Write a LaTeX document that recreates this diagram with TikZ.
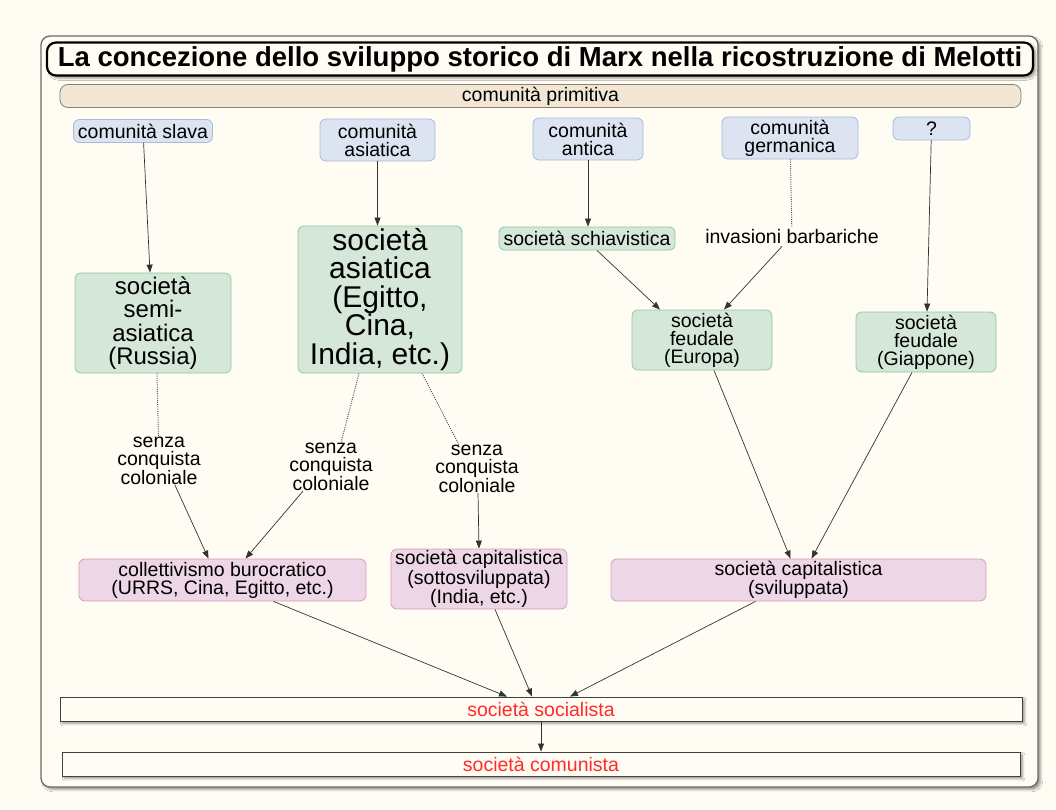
\documentclass[tikz,border=0pt]{standalone}
\usepackage{fontspec}
\setmainfont{Liberation Sans}
\usetikzlibrary{arrows.meta,shadows.blur}

\definecolor{paper}{HTML}{FFFDF3}
\definecolor{frameline}{HTML}{6E6A64}
\definecolor{primfill}{HTML}{F2E7D4}
\definecolor{primline}{HTML}{8E7C76}
\definecolor{commfill}{HTML}{DCE3F1}
\definecolor{commline}{HTML}{A9B9DA}
\definecolor{socfill}{HTML}{D4E7D8}
\definecolor{socline}{HTML}{8FC89C}
\definecolor{capfill}{HTML}{EDD6E5}
\definecolor{capline}{HTML}{D89CBB}
\definecolor{redtext}{HTML}{FF2A2A}

\begin{document}
\begin{tikzpicture}[x=1pt,y=-1pt,
  txt/.style={font=\fontsize{19.5}{18}\selectfont, align=center, inner sep=0pt},
  midtxt/.style={font=\fontsize{24}{23.5}\selectfont, align=center, inner sep=0pt},
  bigtxt/.style={font=\fontsize{30}{28.5}\selectfont, align=center, inner sep=0pt},
  box/.style={rounded corners=6pt, line width=0.8pt},
  commbox/.style={box, draw=commline, fill=commfill},
  socbox/.style={box, draw=socline, fill=socfill},
  capbox/.style={box, draw=capline, fill=capfill},
  endbox/.style={txt, draw=black!75, fill=paper, line width=0.9pt, text=redtext,
    blur shadow={shadow blur steps=5}},
  arr/.style={-{Triangle[length=8pt,width=6pt]}, draw=black!80, line width=0.7pt},
  dots/.style={draw=black!65, line width=1pt, dash pattern=on 1pt off 1.2pt},
]
\useasboundingbox (0,0) rectangle (1056,809);
\fill[paper] (0,0) rectangle (1056,809);

% outer frame
\draw[frameline, line width=1.3pt, fill=paper, rounded corners=9pt,
  blur shadow={shadow blur steps=5}] (41,36) rectangle (1038,787);

% title
\node[draw=black, line width=2.2pt, fill=paper, rounded corners=9pt, inner sep=0pt,
  minimum width=986, minimum height=33, font=\fontsize{27.5}{28}\selectfont\bfseries,
  blur shadow={shadow blur steps=5}] (title) at (540,59)
  {La concezione dello sviluppo storico di Marx nella ricostruzione di Melotti};

% primitive community bar
\node[txt, box, draw=primline, fill=primfill, rounded corners=8pt,
  minimum width=961, minimum height=23] (prim) at (540.5,96) {comunità primitiva};

% communities
\node[txt, commbox, minimum width=139, minimum height=23] (slava) at (143,131) {comunità slava};
\node[txt, commbox, minimum width=115, minimum height=42] (asiac) at (377.5,140) {comunità\\asiatica};
\node[txt, commbox, minimum width=110, minimum height=42] (antica) at (588,139) {comunità\\antica};
\node[txt, commbox, minimum width=136, minimum height=42] (germ) at (790,138) {comunità\\germanica};
\node[txt, commbox, minimum width=77, minimum height=23] (ignota) at (931.5,128.5) {?};

% pre-capitalist societies
\node[midtxt, socbox, minimum width=156, minimum height=100] (russia) at (153,323)
  {società\\semi-\\asiatica\\(Russia)};
\node[bigtxt, socbox, minimum width=164, minimum height=147] (asias) at (380,299.5)
  {società\\asiatica\\(Egitto,\\Cina,\\India, etc.)};
\node[txt, socbox, rounded corners=5pt, minimum width=176, minimum height=23] (schiav) at (587,238.5)
  {società schiavistica};
\node[txt, inner sep=2pt] (invas) at (792,237) {invasioni barbariche};
\node[txt, socbox, minimum width=140, minimum height=60] (europa) at (702,340)
  {società\\feudale\\(Europa)};
\node[txt, socbox, minimum width=140, minimum height=60] (giapp) at (926,342)
  {società\\feudale\\(Giappone)};

% labels
\node[txt] (senza1) at (159,461) {senza\\conquista\\coloniale};
\node[txt] (senza2) at (331,467) {senza\\conquista\\coloniale};
\node[txt] (senza3) at (477,469) {senza\\conquista\\coloniale};

% later societies
\node[txt, capbox, minimum width=287, minimum height=42] (burocr) at (222.5,580)
  {collettivismo burocratico\\(URRS, Cina, Egitto, etc.)};
\node[txt, capbox, minimum width=176, minimum height=60] (sotto) at (479,579)
  {società capitalistica\\(sottosviluppata)\\(India, etc.)};
\node[txt, capbox, minimum width=375, minimum height=42] (svil) at (798.5,580)
  {società capitalistica\\(sviluppata)};

\node[endbox, minimum width=962, minimum height=24] (social) at (541,709) {società socialista};
\node[endbox, minimum width=958, minimum height=24] (comun) at (541,764) {società comunista};

% connectors
\draw[arr] (slava) -- ([xshift=-3pt]russia.north);
\draw[arr] (asiac) -- (asiac |- asias.north);
\draw[arr] (antica) -- (antica |- schiav.north);
\draw[dots] (germ) -- (invas);
\draw[arr] (ignota) -- ([xshift=1pt]giapp.north);
\draw[arr] ([xshift=10pt]schiav.south) -- ([xshift=-42pt]europa.north);
\draw[arr] ([xshift=-10pt]invas.south) -- ([xshift=22pt]europa.north);
\draw[dots] ([xshift=4pt]russia.south) -- (senza1);
\draw[dots] ([xshift=-21pt]asias.south) -- ([xshift=10pt]senza2.north);
\draw[dots] ([xshift=42pt]asias.south) -- ([xshift=-18pt]senza3.north);
\draw[arr] ([xshift=16pt]senza1.south) -- ([xshift=-14pt]burocr.north);
\draw[arr] ([xshift=-28pt]senza2.south) -- ([xshift=23pt]burocr.north);
\draw[arr] ([xshift=1pt]senza3.south) -- (sotto.north);
\draw[arr] ([xshift=12pt]europa.south) -- ([xshift=-8pt]svil.north);
\draw[arr] ([xshift=-14pt]giapp.south) -- ([xshift=13pt]svil.north);
\draw[arr] ([xshift=51pt]burocr.south) -- ([xshift=-34pt]social.north);
\draw[arr] ([xshift=16pt]sotto.south) -- ([xshift=-9pt]social.north);
\draw[arr] ([xshift=-43pt]svil.south) -- ([xshift=29pt]social.north);
\draw[arr] (social) -- (comun);
\end{tikzpicture}
\end{document}
